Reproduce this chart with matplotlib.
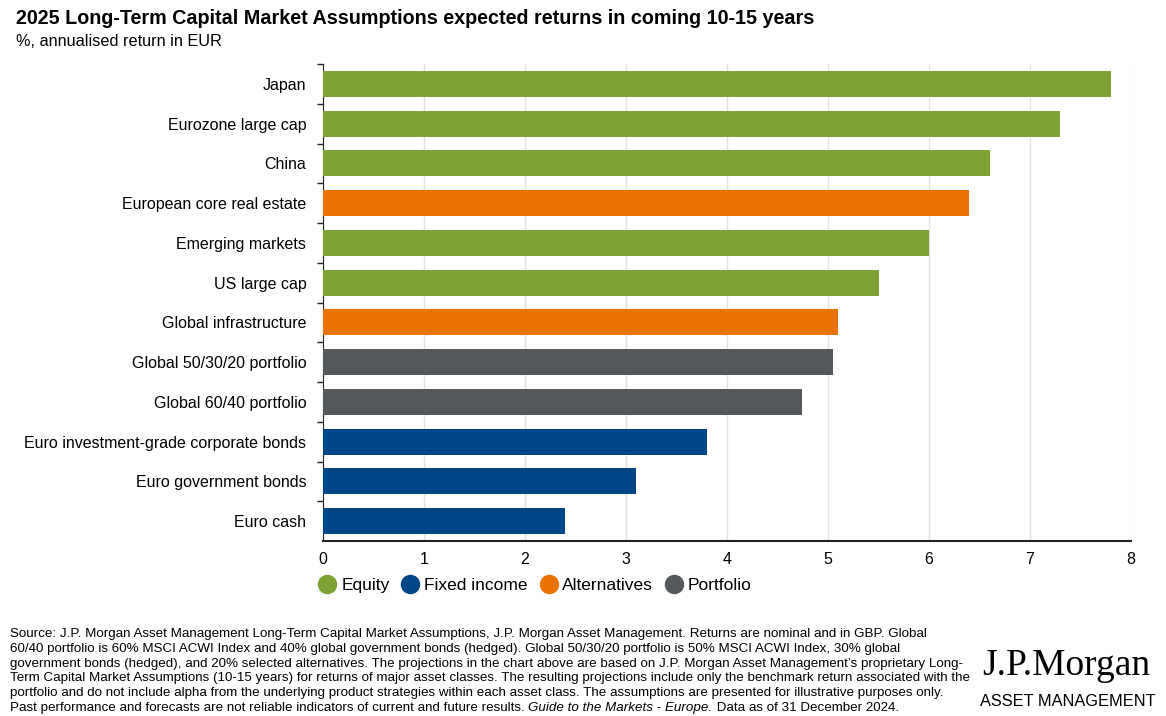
import matplotlib.pyplot as plt
from matplotlib.lines import Line2D

plt.rcParams['font.family'] = ['Liberation Sans', 'DejaVu Sans']

# data, top to bottom
categories = ["Japan", "Eurozone large cap", "China", "European core real estate",
              "Emerging markets", "US large cap", "Global infrastructure",
              "Global 50/30/20 portfolio", "Global 60/40 portfolio",
              "Euro investment-grade corporate bonds", "Euro government bonds", "Euro cash"]
returns = [7.8, 7.3, 6.6, 6.4, 6.0, 5.5, 5.1, 5.05, 4.74, 3.8, 3.1, 2.4]
groups = ["Equity", "Equity", "Equity", "Alternatives", "Equity", "Equity", "Alternatives",
          "Portfolio", "Portfolio", "Fixed income", "Fixed income", "Fixed income"]
legend_order = ["Equity", "Fixed income", "Alternatives", "Portfolio"]
xticks = [0, 1, 2, 3, 4, 5, 6, 7, 8]

colors = {"Equity": "#7ea233", "Fixed income": "#02468a",
          "Alternatives": "#e97300", "Portfolio": "#55595c"}

W, H = 1166, 716
fig = plt.figure(figsize=(W / 100, H / 100), dpi=100)
ax = fig.add_axes([323 / W, 1 - 541 / H, (1131 - 323) / W, (541 - 64) / H])

ypos = list(range(len(categories)))
ax.barh(ypos, returns, height=0.66, color=[colors[g] for g in groups], zorder=3)
ax.set_ylim(len(categories) - 0.5, -0.5)
ax.set_xlim(0, 8)
ax.set_xticks(xticks)
ax.set_xticklabels([str(t) for t in xticks], fontsize=11.5)
ax.set_yticks(ypos)
ax.set_yticklabels(categories, fontsize=11.5)
ax.tick_params(axis='y', length=0, pad=12)
ax.tick_params(axis='x', length=0, pad=8)
# tick marks between categories on the y spine
ax.set_yticks([i - 0.5 for i in range(len(categories))], minor=True)
ax.tick_params(axis='y', which='minor', length=4, width=1, color='#222222', direction='out')
ax.grid(axis='x', color='#e2e2e2', linewidth=1, zorder=0)
for s in ['top', 'right']:
    ax.spines[s].set_visible(False)
ax.spines['left'].set_color('#222222')
ax.spines['bottom'].set_color('#222222')
ax.spines['bottom'].set_linewidth(1.5)

handles = [Line2D([], [], marker='o', linestyle='none', markersize=13,
                  markerfacecolor=colors[g], markeredgecolor=colors[g]) for g in legend_order]
fig.legend(handles, legend_order, loc='center left', bbox_to_anchor=(310 / W, 1 - 585 / H),
           ncol=4, frameon=False, fontsize=12.5, handletextpad=0.2, columnspacing=0.6,
           handlelength=1.2, borderaxespad=0)

fig.text(16 / W, 1 - 18 / H, "2025 Long-Term Capital Market Assumptions expected returns in coming 10-15 years",
         fontsize=14.2, fontweight='bold', va='center')
fig.text(16 / W, 1 - 41 / H, "%, annualised return in EUR", fontsize=11.7, va='center')

notes = [
    "Source: J.P. Morgan Asset Management Long-Term Capital Market Assumptions, J.P. Morgan Asset Management. Returns are nominal and in GBP. Global",
    "60/40 portfolio is 60% MSCI ACWI Index and 40% global government bonds (hedged). Global 50/30/20 portfolio is 50% MSCI ACWI Index, 30% global",
    "government bonds (hedged), and 20% selected alternatives. The projections in the chart above are based on J.P. Morgan Asset Management\u2019s proprietary Long-",
    "Term Capital Market Assumptions (10-15 years) for returns of major asset classes. The resulting projections include only the benchmark return associated with the",
    "portfolio and do not include alpha from the underlying product strategies within each asset class. The assumptions are presented for illustrative purposes only.",
]
note_size = 9.6
line_gap = 14.67
first_base = 637.3
for i, line in enumerate(notes):
    fig.text(10 / W, 1 - (first_base + i * line_gap) / H, line, fontsize=note_size, va='baseline')

# last line with italic publication name, drawn piece by piece
pieces = [("Past performance and forecasts are not reliable indicators of current and future results. ", 'normal'),
          ("Guide to the Markets - Europe.", 'italic'),
          (" Data as of 31 December 2024.", 'normal')]
renderer = fig.canvas.get_renderer()
x = 10 / W
y = 1 - (first_base + len(notes) * line_gap) / H
for txt, style in pieces:
    t = fig.text(x, y, txt, fontsize=note_size, va='baseline', style=style)
    bb = t.get_window_extent(renderer=renderer)
    x += bb.width / W

fig.text(1066 / W, 1 - 666 / H, "J.P.Morgan", fontsize=27, ha='center', va='center',
         family=['Liberation Serif', 'DejaVu Serif'])
fig.text(1068 / W, 1 - 701 / H, "ASSET MANAGEMENT", fontsize=11.8, ha='center', va='center')

fig.savefig("out.png", dpi=100)
